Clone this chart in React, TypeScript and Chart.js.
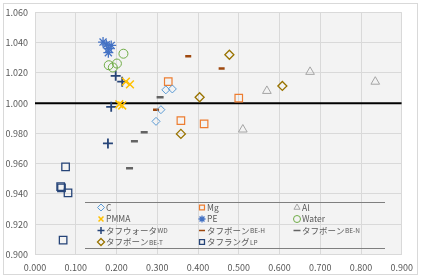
import React, { useEffect, useRef } from "react";
import { Chart, registerables } from "chart.js";

Chart.register(...registerables);

// Measured points per material: [x, y]
const cPts: [number, number][] = [[0.321, 1.0088], [0.337, 1.0094], [0.309, 0.9957], [0.297, 0.988]];
const mgPts: [number, number][] = [[0.327, 1.0142], [0.5, 1.0033], [0.358, 0.9885], [0.415, 0.9863]];
const alPts: [number, number][] = [[0.569, 1.0081], [0.51, 0.9826], [0.675, 1.0207], [0.835, 1.0142]];
const pmmaPts: [number, number][] = [[0.223, 1.0142], [0.233, 1.0124], [0.207, 0.9993], [0.214, 0.9985]];
const pePts: [number, number][] = [[0.167, 1.0404], [0.175, 1.0386], [0.187, 1.0382], [0.181, 1.036], [0.18, 1.0334]];
const waterPts: [number, number][] = [[0.217, 1.0327], [0.181, 1.0251], [0.201, 1.0262], [0.191, 1.0236]];
const wdPts: [number, number][] = [[0.198, 1.0181], [0.214, 1.0142], [0.187, 0.9976], [0.179, 0.9734]];
const behPts: [number, number][] = [[0.376, 1.031], [0.458, 1.0229], [0.297, 0.9957]];
const benPts: [number, number][] = [[0.307, 1.0039], [0.268, 0.9808], [0.244, 0.9749], [0.232, 0.957]];
const betPts: [number, number][] = [[0.477, 1.032], [0.404, 1.0039], [0.358, 0.9797], [0.607, 1.0114]];
const lpPts: [number, number][] = [[0.075, 0.9579], [0.065, 0.944], [0.063, 0.9448], [0.081, 0.9407], [0.069, 0.9095]];

// Reference line at ratio 1.000
const refLine: [number, number][] = [[0, 1], [0.9, 1]];

const X_MIN = 0, X_MAX = 0.9, X_STEP = 0.1;
const Y_MIN = 0.9, Y_MAX = 1.06, Y_STEP = 0.02;

type Series = {
  name: string;
  suffix?: string;
  pts: [number, number][];
  style: string;
  color: string;
  r: number;
  bw: number;
};

const series: Series[] = [
  { name: "C", pts: cPts, style: "rectRot", color: "#5B9BD5", r: 4, bw: 1 },
  { name: "Mg", pts: mgPts, style: "rect", color: "#ED7D31", r: 5.3, bw: 1.2 },
  { name: "Al", pts: alPts, style: "triangle", color: "#A5A5A5", r: 5, bw: 1 },
  { name: "PMMA", pts: pmmaPts, style: "crossRot", color: "#FFC000", r: 5.5, bw: 1.5 },
  { name: "PE", pts: pePts, style: "star", color: "#4472C4", r: 5, bw: 1.3 },
  { name: "Water", pts: waterPts, style: "circle", color: "#70AD47", r: 4.5, bw: 1 },
  { name: "タフウォータ", suffix: "WD", pts: wdPts, style: "cross", color: "#264478", r: 5, bw: 1.8 },
  { name: "タフボーン", suffix: "BE-H", pts: behPts, style: "line", color: "#9E480E", r: 3, bw: 2.5 },
  { name: "タフボーン", suffix: "BE-N", pts: benPts, style: "line", color: "#636363", r: 3.5, bw: 2.5 },
  { name: "タフボーン", suffix: "BE-T", pts: betPts, style: "rectRot", color: "#997300", r: 4.5, bw: 1.3 },
  { name: "タフラング", suffix: "LP", pts: lpPts, style: "rect", color: "#264478", r: 5.3, bw: 1.3 },
];

const FONT = "'Noto Sans CJK JP', 'Noto Sans', sans-serif";
const TEXT = "#595959";

function drawMarker(ctx: CanvasRenderingContext2D, style: string, x: number, y: number, r: number, color: string, bw: number) {
  ctx.save();
  ctx.strokeStyle = color;
  ctx.lineWidth = bw;
  ctx.beginPath();
  switch (style) {
    case "circle":
      ctx.arc(x, y, r, 0, Math.PI * 2);
      break;
    case "rect": {
      const s = r * Math.SQRT1_2;
      ctx.rect(x - s, y - s, 2 * s, 2 * s);
      break;
    }
    case "rectRot":
      ctx.moveTo(x, y - r);
      ctx.lineTo(x + r, y);
      ctx.lineTo(x, y + r);
      ctx.lineTo(x - r, y);
      ctx.closePath();
      break;
    case "triangle":
      ctx.moveTo(x, y - r);
      ctx.lineTo(x + r * 0.87, y + r * 0.5);
      ctx.lineTo(x - r * 0.87, y + r * 0.5);
      ctx.closePath();
      break;
    case "cross":
      ctx.moveTo(x, y - r);
      ctx.lineTo(x, y + r);
      ctx.moveTo(x - r, y);
      ctx.lineTo(x + r, y);
      break;
    case "crossRot": {
      const s = r * Math.SQRT1_2;
      ctx.moveTo(x - s, y - s);
      ctx.lineTo(x + s, y + s);
      ctx.moveTo(x - s, y + s);
      ctx.lineTo(x + s, y - s);
      break;
    }
    case "star": {
      const s = r * Math.SQRT1_2;
      ctx.moveTo(x, y - r);
      ctx.lineTo(x, y + r);
      ctx.moveTo(x - r, y);
      ctx.lineTo(x + r, y);
      ctx.moveTo(x - s, y - s);
      ctx.lineTo(x + s, y + s);
      ctx.moveTo(x - s, y + s);
      ctx.lineTo(x + s, y - s);
      break;
    }
    case "line":
      ctx.moveTo(x - r, y);
      ctx.lineTo(x + r, y);
      break;
  }
  ctx.stroke();
  ctx.restore();
}

// Frame around the whole chart and shaded plot area
const backdropPlugin = {
  id: "backdrop",
  beforeDraw(chart: any) {
    const { ctx, chartArea } = chart;
    ctx.save();
    ctx.fillStyle = "#ffffff";
    ctx.fillRect(0, 0, chart.width, chart.height);
    ctx.strokeStyle = "#D9D9D9";
    ctx.lineWidth = 1;
    ctx.strokeRect(3.5, 3.5, chart.width - 7, chart.height - 7);
    ctx.fillStyle = "#F3F3F3";
    ctx.fillRect(chartArea.left, chartArea.top, chartArea.right - chartArea.left, chartArea.bottom - chartArea.top);
    ctx.restore();
  },
};

// Legend box drawn inside the plot area, three columns
const legendPlugin = {
  id: "insideLegend",
  afterDraw(chart: any) {
    const { ctx } = chart;
    const left = 85, right = 385, top = 202.5, bottom = 248.5;
    const colX = [101, 202, 297];
    const rowY = [207.5, 219, 230.5, 242];
    ctx.save();
    ctx.strokeStyle = "#7F7F7F";
    ctx.lineWidth = 1;
    ctx.beginPath();
    ctx.moveTo(left, top);
    ctx.lineTo(right, top);
    ctx.moveTo(left, bottom);
    ctx.lineTo(right, bottom);
    ctx.stroke();
    ctx.textBaseline = "middle";
    ctx.textAlign = "left";
    series.forEach((s, i) => {
      const cx = colX[i % 3];
      const cy = rowY[Math.floor(i / 3)];
      const small = s.style === "line" ? s.r : Math.min(s.r, 3.5);
      drawMarker(ctx, s.style, cx, cy, small, s.color, Math.min(s.bw, 1.5));
      ctx.fillStyle = TEXT;
      ctx.font = `8.5px ${FONT}`;
      const tx = cx + 5;
      ctx.fillText(s.name, tx, cy);
      if (s.suffix) {
        const w = ctx.measureText(s.name).width;
        ctx.font = `6.5px ${FONT}`;
        ctx.fillText(s.suffix, tx + w + 0.5, cy + 0.5);
      }
    });
    ctx.restore();
  },
};

export default function App() {
  const canvasRef = useRef<HTMLCanvasElement | null>(null);

  useEffect(() => {
    document.body.style.margin = "0";
    const canvas = canvasRef.current;
    if (!canvas) return;

    const datasets: any[] = [
      {
        type: "line",
        label: "ref",
        data: refLine.map(([x, y]) => ({ x, y })),
        borderColor: "#000000",
        borderWidth: 2,
        pointRadius: 0,
        fill: false,
        order: 20,
      },
      ...series.map((s) => ({
        type: "scatter",
        label: s.name + (s.suffix ?? ""),
        data: s.pts.map(([x, y]) => ({ x, y })),
        pointStyle: s.style,
        pointRadius: s.r,
        pointBorderColor: s.color,
        pointBackgroundColor: "rgba(0,0,0,0)",
        pointBorderWidth: s.bw,
        borderColor: s.color,
        backgroundColor: "rgba(0,0,0,0)",
      })),
    ];

    const chart = new Chart(canvas, {
      type: "scatter",
      data: { datasets },
      options: {
        animation: false,
        responsive: false,
        maintainAspectRatio: false,
        layout: { padding: { left: 0, top: 10, right: 17, bottom: 0 } },
        plugins: { legend: { display: false }, tooltip: { enabled: false } },
        scales: {
          x: {
            type: "linear",
            min: X_MIN,
            max: X_MAX,
            border: { display: false },
            grid: { color: "#D9D9D9", lineWidth: 1, drawTicks: false },
            ticks: {
              stepSize: X_STEP,
              padding: 8,
              color: TEXT,
              font: { family: FONT, size: 9 },
              callback: (v: any) => Number(v).toFixed(3),
            },
            afterFit: (scale: any) => {
              scale.height = 23.5;
            },
          },
          y: {
            type: "linear",
            min: Y_MIN,
            max: Y_MAX,
            border: { display: false },
            grid: { color: "#D9D9D9", lineWidth: 1, drawTicks: false },
            ticks: {
              stepSize: Y_STEP,
              padding: 7,
              color: TEXT,
              font: { family: FONT, size: 9 },
              callback: (v: any) => Number(v).toFixed(3),
            },
            afterFit: (scale: any) => {
              scale.width = 35;
            },
          },
        },
      },
      plugins: [backdropPlugin, legendPlugin],
    });

    return () => chart.destroy();
  }, []);

  return (
    <div style={{ width: 421, height: 278, position: "relative" }}>
      <canvas ref={canvasRef} width={421} height={278} style={{ display: "block", width: 421, height: 278 }} />
    </div>
  );
}
